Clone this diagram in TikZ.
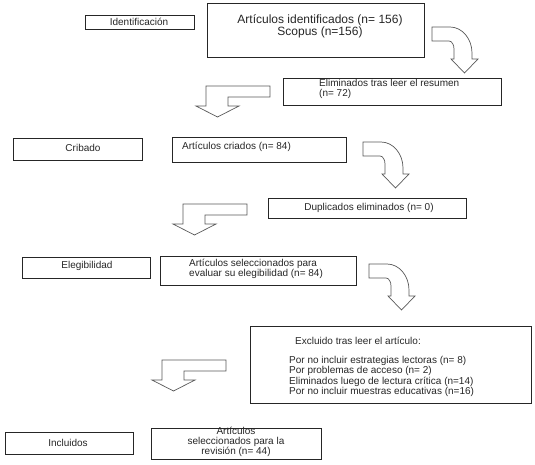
\documentclass[tikz,border=0pt]{standalone}
\usepackage{fontspec}
\setmainfont{Liberation Sans}
\usetikzlibrary{fit}
\tikzset{
  box/.style={draw=black!85, line width=0.7pt, inner sep=0pt},
  txt/.style={inner sep=0pt, font=\fontsize{10}{10}\selectfont, text=black!85},
  bigtxt/.style={inner sep=0pt, font=\fontsize{12}{11}\selectfont, text=black!85},
  arrowline/.style={draw=black!65, line width=0.7pt, fill=white, line join=miter},
  curvarr/.pic={
    \path[arrowline] (0,0) -- (18,0) .. controls (30.1,0) and (40,11.7) .. (40,26)
      -- (40,32) -- (46,32) -- (32.5,46) -- (19,32) -- (22,32) -- (22,22)
      .. controls (22,17.6) and (19.75,14) .. (17,14) -- (0,14) -- cycle;
  },
  larr/.pic={
    \path[arrowline] (0,0) -- (64,0) -- (64,11) -- (22,11) -- (22,20) -- (33,20)
      -- (11.5,31) -- (-10,20) -- (0,20) -- cycle;
  }
}
\begin{document}
\begin{tikzpicture}[x=1pt,y=-1pt]
\useasboundingbox (0,0) rectangle (535,465);
% boxes
\node[box, fit={(85,15) (194,29)}] (b1) {};
\node[box, fit={(207,3) (424,57)}] (b2) {};
\node[box, fit={(283,78) (501,105)}] (b3) {};
\node[box, fit={(13,138) (142,160)}] (b4) {};
\node[box, fit={(172,137) (346,162)}] (b5) {};
\node[box, fit={(268,198) (466,218)}] (b6) {};
\node[box, fit={(22,257) (150,278)}] (b7) {};
\node[box, fit={(160,256) (356,285)}] (b8) {};
\node[box, fit={(250,326) (531,403)}] (b9) {};
\node[box, fit={(5,432) (133,454)}] (b10) {};
\node[box, fit={(151,428) (321,459)}] (b11) {};
% texts
\node[txt] (t1) at (139,21.5) {Identificación};
\node[bigtxt, align=center] (t2) at (320,26) {Artículos identificados (n= 156)\\Scopus (n=156)};
\node[txt, anchor=west, align=left] (t3) at (319,89) {Eliminados tras leer el resumen\\(n= 72)};
\node[txt] (t4) at (83,148) {Cribado};
\node[txt, anchor=west] (t5) at (182,146.5) {Artículos criados (n= 84)};
\node[txt] (t6) at (369,208) {Duplicados eliminados (n= 0)};
\node[txt] (t7) at (87,266) {Elegibilidad};
\node[txt, anchor=west, align=left] (t8) at (189,269) {Artículos seleccionados para\\evaluar su elegibilidad (n= 84)};
\node[txt] (t9) at (358,341) {Excluido tras leer el artículo:};
\node[txt, anchor=north west, align=left, font=\fontsize{10}{9.3}\selectfont] (t10) at (289,356) {Por no incluir estrategias lectoras (n= 8)\\Por problemas de acceso (n= 2)\\Eliminados luego de lectura crítica (n=14)\\Por no incluir muestras educativas (n=16)};
\node[txt] (t11) at (68,443) {Incluidos};
\node[txt, align=center] (t12) at (236,442) {Artículos\\seleccionados para la\\revisión (n= 44)};
% block arrows
\pic at (432,27) {curvarr};
\pic at (363,142) {curvarr};
\pic at (369,264) {curvarr};
\pic at (206,86) {larr};
\pic at (183,204) {larr};
\pic at (162,360) {larr};
\end{tikzpicture}
\end{document}
